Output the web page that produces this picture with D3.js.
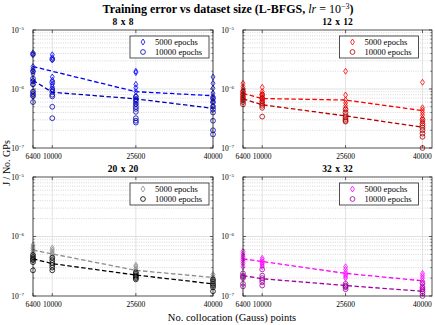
<!DOCTYPE html>
<html>
<head>
<meta charset="utf-8">
<script src="https://cdn.jsdelivr.net/npm/d3@7"></script>
<style>
  body { margin: 0; background: #fff; }
  svg { display: block; }
  text { font-family: "Liberation Serif", "DejaVu Serif", serif; fill: #000; }
</style>
</head>
<body>
<div id="chart"></div>
<script>
// x categories (number of collocation points) and panel names
const xTicks = [6400, 10000, 25600, 40000];
const panelTitles = ['8 x 8', '12 x 12', '20 x 20', '32 x 32'];
const seriesNames = ['5000 epochs', '10000 epochs'];

// per-panel scatter values, one list per x tick
const pts8_5000 = [
  [4.1e-6, 3.8e-6, 2.4e-6, 2.2e-6, 2.0e-6, 1.8e-6, 1.4e-6, 1.2e-6, 9.0e-7, 7.5e-7],
  [3.8e-6, 3.4e-6, 3.1e-6, 1.6e-6, 1.4e-6, 1.2e-6, 1.1e-6, 9.5e-7],
  [2.0e-6, 1.9e-6, 1.2e-6, 1.05e-6, 9.0e-7, 7.5e-7, 6.5e-7, 5.5e-7],
  [1.6e-6, 1.25e-6, 1.03e-6, 8.5e-7, 7.5e-7, 6.8e-7, 6.0e-7, 5.2e-7]
];
const pts8_10000 = [
  [3.9e-6, 2.0e-6, 1.5e-6, 1.35e-6, 1.2e-6, 9.0e-7, 8.2e-7, 7.6e-7, 6.0e-7],
  [3.2e-6, 1.3e-6, 1.0e-6, 9.0e-7, 8.0e-7, 7.5e-7, 5.0e-7, 3.2e-7],
  [7.4e-7, 6.8e-7, 6.2e-7, 5.6e-7, 5.0e-7, 4.6e-7, 4.1e-7, 3.2e-7, 2.9e-7, 2.7e-7],
  [7.0e-7, 6.0e-7, 5.0e-7, 4.5e-7, 4.0e-7, 2.9e-7, 2.0e-7, 1.7e-7]
];
const pts12_5000 = [
  [1.25e-6, 1.1e-6, 1.0e-6, 9.2e-7, 8.5e-7, 8.0e-7, 7.5e-7, 7.0e-7, 6.5e-7],
  [1.07e-6, 9.0e-7, 8.2e-7, 7.6e-7, 7.0e-7, 6.5e-7, 6.0e-7],
  [2.0e-6, 7.9e-7, 6.5e-7, 5.8e-7, 5.2e-7, 4.7e-7],
  [1.3e-6, 4.8e-7, 4.4e-7, 4.0e-7, 3.6e-7, 3.2e-7, 2.8e-7]
];
const pts12_10000 = [
  [9.0e-7, 8.0e-7, 7.2e-7, 6.6e-7, 6.0e-7, 5.5e-7],
  [8.0e-7, 7.0e-7, 6.2e-7, 5.6e-7, 5.2e-7, 4.8e-7, 3.4e-7],
  [4.5e-7, 4.0e-7, 3.6e-7, 3.3e-7, 3.1e-7, 2.9e-7, 2.8e-7],
  [3.0e-7, 2.6e-7, 2.4e-7, 2.2e-7, 2.0e-7, 1.75e-7, 1.55e-7, 1.0e-7]
];
const pts20_5000 = [
  [7.2e-7, 6.6e-7, 6.2e-7, 5.8e-7, 5.4e-7, 5.0e-7, 4.6e-7],
  [6.4e-7, 5.9e-7, 5.5e-7, 5.1e-7, 4.8e-7, 4.5e-7],
  [3.3e-7, 3.1e-7, 2.9e-7, 2.7e-7],
  [2.3e-7, 2.15e-7, 2.0e-7, 1.9e-7]
];
const pts20_10000 = [
  [4.9e-7, 4.5e-7, 4.2e-7, 4.0e-7, 3.7e-7, 2.7e-7],
  [4.4e-7, 4.0e-7, 3.6e-7, 3.3e-7, 3.0e-7, 2.7e-7],
  [2.5e-7, 2.35e-7, 2.2e-7, 2.1e-7, 2.0e-7, 1.9e-7],
  [1.9e-7, 1.75e-7, 1.6e-7, 1.5e-7, 1.4e-7, 1.2e-7]
];
const pts32_5000 = [
  [5.6e-7, 5.1e-7, 4.7e-7, 4.4e-7, 4.1e-7, 3.8e-7, 3.5e-7, 3.1e-7],
  [4.3e-7, 4.0e-7, 3.7e-7, 3.5e-7, 3.3e-7, 3.1e-7],
  [3.1e-7, 2.8e-7, 2.5e-7, 2.3e-7, 2.15e-7, 2.0e-7],
  [2.4e-7, 2.2e-7, 2.0e-7, 1.8e-7, 1.6e-7, 1.45e-7, 1.3e-7]
];
const pts32_10000 = [
  [2.4e-7, 2.2e-7, 2.1e-7, 2.0e-7, 1.6e-7, 1.45e-7],
  [2.8e-7, 2.2e-7, 2.0e-7, 1.85e-7, 1.7e-7, 1.5e-7],
  [1.6e-7, 1.5e-7, 1.45e-7, 1.4e-7, 1.3e-7],
  [1.65e-7, 1.4e-7, 1.3e-7, 1.2e-7, 1.1e-7, 1.0e-7]
];

// dashed trend lines (one value per x tick)
const line8_5000 = [2.4e-6, 2.0e-6, 9.0e-7, 7.7e-7];
const line8_10000 = [1.4e-6, 8.8e-7, 6.8e-7, 4.7e-7];
const line12_5000 = [8.4e-7, 6.9e-7, 6.5e-7, 4.3e-7];
const line12_10000 = [6.8e-7, 5.4e-7, 3.5e-7, 2.25e-7];
const line20_5000 = [5.9e-7, 5.1e-7, 2.7e-7, 2.05e-7];
const line20_10000 = [4.2e-7, 3.5e-7, 2.25e-7, 1.6e-7];
const line32_5000 = [4.2e-7, 3.8e-7, 2.4e-7, 1.8e-7];
const line32_10000 = [2.2e-7, 1.95e-7, 1.5e-7, 1.2e-7];

const panels = [
  { title: panelTitles[0], pts: [pts8_5000, pts8_10000], lines: [line8_5000, line8_10000], colors: ['#0000ff', '#0000b4'],
    left: 33, right: 213, xEnd: 40000, top: 30, bottom: 148 },
  { title: panelTitles[1], pts: [pts12_5000, pts12_10000], lines: [line12_5000, line12_10000], colors: ['#ff0000', '#b40000'],
    left: 243, right: 432, xEnd: 41780, top: 30, bottom: 148 },
  { title: panelTitles[2], pts: [pts20_5000, pts20_10000], lines: [line20_5000, line20_10000], colors: ['#8c8c8c', '#000000'],
    left: 33, right: 213, xEnd: 40000, top: 177, bottom: 296 },
  { title: panelTitles[3], pts: [pts32_5000, pts32_10000], lines: [line32_5000, line32_10000], colors: ['#ff00ff', '#a000a0'],
    left: 243, right: 432, xEnd: 41780, top: 177, bottom: 296 }
];

const W = 435, H = 325;
const svg = d3.select('#chart').append('svg').attr('width', W).attr('height', H);

// main title
const title = svg.append('text')
  .attr('x', 228).attr('y', 13)
  .attr('text-anchor', 'middle')
  .style('font-size', '12px').style('font-weight', 'bold');
title.append('tspan').text('Training error vs dataset size (L-BFGS, ');
title.append('tspan').style('font-style', 'italic').style('font-weight', 'normal').text('lr');
title.append('tspan').style('font-weight', 'normal').text(' = 10');
title.append('tspan').attr('dy', -4.5).style('font-size', '8px').style('font-weight', 'normal').text('−3');
title.append('tspan').attr('dy', 4.5).text(')');

// axis labels
svg.append('text')
  .attr('transform', 'translate(10,163) rotate(-90)')
  .attr('text-anchor', 'middle')
  .style('font-size', '10px')
  .text('J / No. GPs');

svg.append('text')
  .attr('x', 232).attr('y', 321)
  .attr('text-anchor', 'middle')
  .style('font-size', '10.5px')
  .text('No. collocation (Gauss) points');

const diamond = (cx, cy, s) => `M${cx},${cy - s * 1.3}L${cx + s * 0.85},${cy}L${cx},${cy + s * 1.3}L${cx - s * 0.85},${cy}Z`;

panels.forEach(p => {
  const x = d3.scaleLinear().domain([6400, p.xEnd]).range([p.left, p.right]);
  const y = d3.scaleLog().domain([1e-7, 1e-5]).range([p.bottom, p.top]);
  const g = svg.append('g');

  const minors = [];
  [1e-7, 1e-6].forEach(d => { for (let k = 2; k <= 9; k++) minors.push(d * k); });

  // grid
  g.selectAll('.minor-grid').data(minors).enter().append('line')
    .attr('x1', p.left).attr('x2', p.right)
    .attr('y1', d => y(d)).attr('y2', d => y(d))
    .attr('stroke', '#bdbdbd').attr('stroke-width', 0.6).attr('stroke-dasharray', '1,1.3');
  g.append('line')
    .attr('x1', p.left).attr('x2', p.right)
    .attr('y1', y(1e-6)).attr('y2', y(1e-6))
    .attr('stroke', '#d9d9d9').attr('stroke-width', 0.8);
  g.selectAll('.vgrid').data(xTicks).enter().append('line')
    .attr('x1', d => x(d)).attr('x2', d => x(d))
    .attr('y1', p.top).attr('y2', p.bottom)
    .attr('stroke', '#dcdcdc').attr('stroke-width', 0.8);

  // dashed lines
  p.lines.forEach((vals, si) => {
    g.append('path')
      .datum(vals)
      .attr('d', d3.line().x((d, i) => x(xTicks[i])).y(d => y(d)))
      .attr('fill', 'none')
      .attr('stroke', p.colors[si])
      .attr('stroke-width', 1.3)
      .attr('stroke-dasharray', '4.5,2.5');
  });

  // scatter points
  p.pts.forEach((groups, si) => {
    const flat = [];
    groups.forEach((vals, i) => vals.forEach(v => flat.push({ x: xTicks[i], v })));
    if (si === 0) {
      g.selectAll('.dia' + si).data(flat).enter().append('path')
        .attr('d', d => diamond(x(d.x), y(d.v), 2.3))
        .attr('fill', 'none').attr('stroke', p.colors[si]).attr('stroke-width', 0.8);
    } else {
      g.selectAll('.circ' + si).data(flat).enter().append('circle')
        .attr('cx', d => x(d.x)).attr('cy', d => y(d.v)).attr('r', 2.4)
        .attr('fill', 'none').attr('stroke', p.colors[si]).attr('stroke-width', 0.8);
    }
  });

  // box
  g.append('rect')
    .attr('x', p.left).attr('y', p.top)
    .attr('width', p.right - p.left).attr('height', p.bottom - p.top)
    .attr('fill', 'none').attr('stroke', '#262626').attr('stroke-width', 0.8);

  // ticks (inward, all four sides)
  const yMajors = [1e-7, 1e-6, 1e-5];
  [[p.left, 1], [p.right, -1]].forEach(([x0, dir]) => {
    g.selectAll(null).data(yMajors).enter().append('line')
      .attr('x1', x0).attr('x2', x0 + dir * 3)
      .attr('y1', d => y(d)).attr('y2', d => y(d))
      .attr('stroke', '#262626').attr('stroke-width', 0.7);
    g.selectAll(null).data(minors).enter().append('line')
      .attr('x1', x0).attr('x2', x0 + dir * 1.6)
      .attr('y1', d => y(d)).attr('y2', d => y(d))
      .attr('stroke', '#262626').attr('stroke-width', 0.6);
  });
  [[p.bottom, -1], [p.top, 1]].forEach(([y0, dir]) => {
    g.selectAll(null).data(xTicks).enter().append('line')
      .attr('x1', d => x(d)).attr('x2', d => x(d))
      .attr('y1', y0).attr('y2', y0 + dir * 3)
      .attr('stroke', '#262626').attr('stroke-width', 0.7);
  });

  // tick labels
  const yl = g.selectAll('.ylab').data(yMajors).enter().append('text')
    .attr('x', p.left - 9).attr('y', d => y(d) + 2.5)
    .attr('text-anchor', 'end')
    .style('font-size', '7.5px');
  yl.append('tspan').text('10');
  yl.append('tspan').attr('dy', -3).style('font-size', '5px')
    .text(d => '−' + Math.round(-Math.log10(d)));

  g.selectAll('.xlab').data(xTicks).enter().append('text')
    .attr('x', d => x(d)).attr('y', p.bottom + 11)
    .attr('text-anchor', 'middle')
    .style('font-size', '7.5px')
    .text(d => d);

  // panel title
  g.append('text')
    .attr('x', (p.left + p.right) / 2).attr('y', p.top - 5)
    .attr('text-anchor', 'middle')
    .style('font-size', '9.5px').style('font-weight', 'bold')
    .style('word-spacing', '1px')
    .text(p.title);

  // legend
  const lr = x(40000) - 4, lw = 79, lt = p.top + 6, lh = 22;
  const leg = g.append('g');
  leg.append('rect')
    .attr('x', lr - lw).attr('y', lt).attr('width', lw).attr('height', lh)
    .attr('fill', '#fff').attr('stroke', '#262626').attr('stroke-width', 0.8);
  seriesNames.forEach((name, si) => {
    const cy = lt + 6 + si * 10;
    const mx = lr - lw + 13;
    if (si === 0) {
      leg.append('path').attr('d', diamond(mx, cy, 2.3))
        .attr('fill', 'none').attr('stroke', p.colors[si]).attr('stroke-width', 0.8);
    } else {
      leg.append('circle').attr('cx', mx).attr('cy', cy).attr('r', 2.4)
        .attr('fill', 'none').attr('stroke', p.colors[si]).attr('stroke-width', 0.8);
    }
    leg.append('text')
      .attr('x', mx + 12).attr('y', cy + 2.8)
      .style('font-size', '8.5px')
      .text(name);
  });
});
</script>
</body>
</html>
